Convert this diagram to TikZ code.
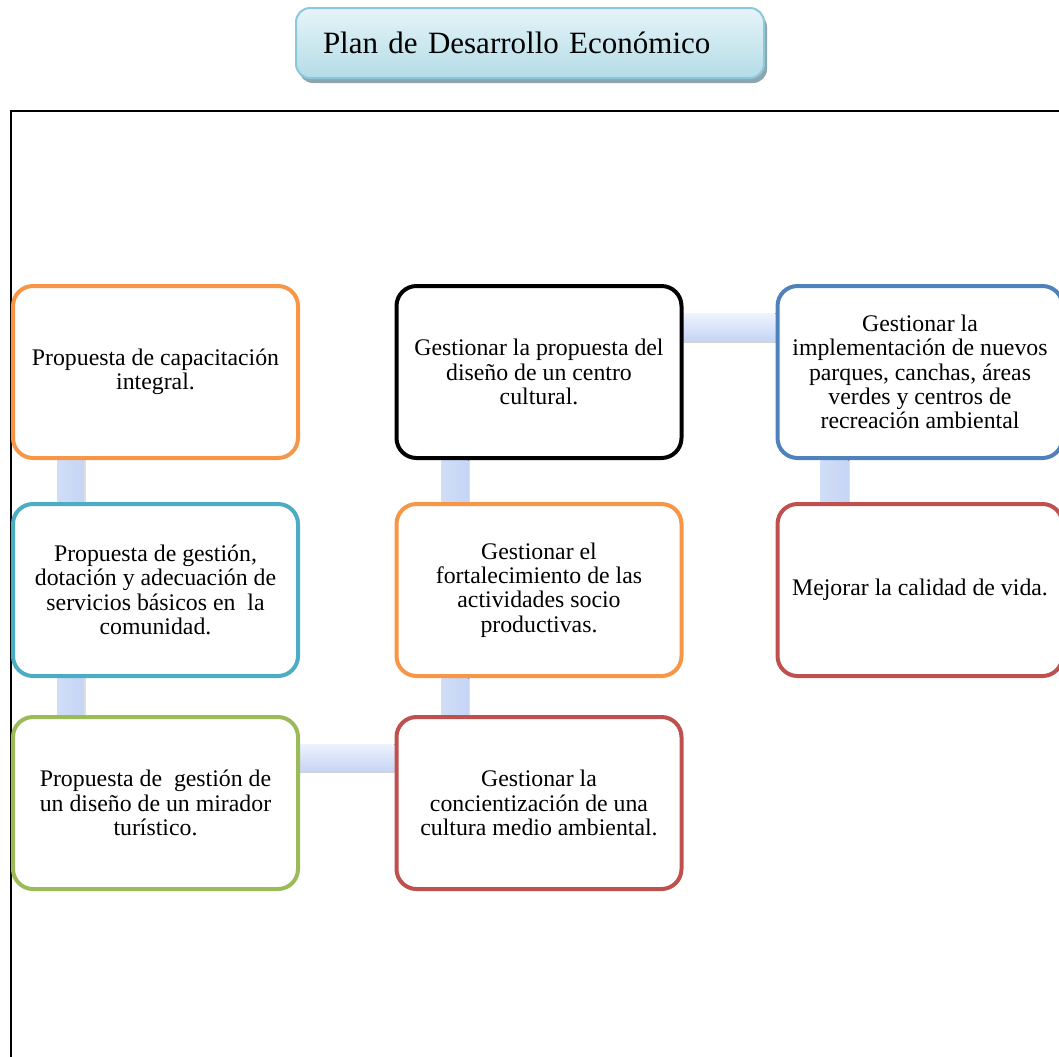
\documentclass[tikz,border=0pt]{standalone}
\usepackage{fontspec}
\setmainfont{Liberation Serif}
\usetikzlibrary{positioning, calc, backgrounds, shadows}
\definecolor{planorange}{RGB}{247, 150, 70}
\definecolor{plancyan}{RGB}{75, 172, 198}
\definecolor{plangreen}{RGB}{155, 187, 89}
\definecolor{planred}{RGB}{192, 80, 77}
\definecolor{planblue}{RGB}{79, 129, 189}
\definecolor{linktop}{RGB}{238, 243, 253}
\definecolor{linkbot}{RGB}{197, 213, 245}
\definecolor{titletop}{RGB}{230, 244, 248}
\definecolor{titlebot}{RGB}{180, 220, 231}
\definecolor{titleline}{RGB}{140, 200, 218}
\definecolor{titleshade}{RGB}{140, 166, 176}

\begin{document}
\begin{tikzpicture}[x=0.5pt, y=-0.5pt,
    caja/.style={draw, line width=2pt, rounded corners=10pt, fill=white,
        minimum width=142.5pt, minimum height=86pt, inner sep=0pt,
        align=center, font=\fontsize{11.9}{12.2}\selectfont},
    enlacev/.style={left color=linkbot!80!white, right color=linkbot,
        drop shadow={shadow xshift=0.8pt, shadow yshift=0pt, opacity=0.25}},
    enlaceh/.style={top color=linktop, bottom color=linkbot,
        drop shadow={shadow xshift=0pt, shadow yshift=-1.2pt, opacity=0.35}}]
    \useasboundingbox (0,0) rectangle (1059,1056);

    % marco
    \draw[line width=1pt] (11,1070) -- (11,111) -- (1070,111);

    % titulo
    \node[draw=titleline, line width=1pt, rounded corners=7pt,
        top color=titletop, bottom color=titlebot,
        drop shadow={shadow xshift=1.5pt, shadow yshift=-2.5pt, fill=titleshade, opacity=1},
        minimum width=234pt, minimum height=35pt, inner xsep=13.5pt,
        text width=207pt, align=left, font=\fontsize{15.5}{18}\selectfont]
        (titulo) at (530,43) {Plan de Desarrollo Económico};

    % columna izquierda
    \node[caja, draw=planorange] (pcap) at (155.5,372) {Propuesta de capacitación\\integral.};
    \node[caja, draw=plancyan] (pserv) at (155.5,590) {Propuesta de gestión,\\dotación y adecuación de\\servicios básicos en~ la\\comunidad.};
    \node[caja, draw=plangreen] (pmir) at (155.5,803) {Propuesta de~ gestión de\\un diseño de un mirador\\turístico.};

    % columna central
    \node[caja, draw=black] (gcult) at (539,372) {Gestionar la propuesta del\\diseño de un centro\\cultural.};
    \node[caja, draw=planorange] (gprod) at (539,590) {Gestionar el\\fortalecimiento de las\\actividades socio\\productivas.};
    \node[caja, draw=planred] (gamb) at (539,803) {Gestionar la\\concientización de una\\cultura medio ambiental.};

    % columna derecha
    \node[caja, draw=planblue] (gpar) at (920,372) {Gestionar la\\implementación de nuevos\\parques, canchas, áreas\\verdes y centros de\\recreación ambiental};
    \node[caja, draw=planred] (mvida) at (920,590) {Mejorar la calidad de vida.};

    % enlaces
    \begin{scope}[on background layer]
        \fill[enlacev] ($(pcap.south west)+(46,0)$) rectangle ($(pserv.north west)+(73,0)$);
        \fill[enlacev] ($(pserv.south west)+(46,0)$) rectangle ($(pmir.north west)+(73,0)$);
        \fill[enlaceh] ($(pmir.north east)+(0,29)$) rectangle ($(gamb.north west)+(0,56)$);
        \fill[enlacev] ($(gamb.north west)+(47,0)$) rectangle ($(gprod.south west)+(74,0)$);
        \fill[enlacev] ($(gprod.north west)+(47,0)$) rectangle ($(gcult.south west)+(74,0)$);
        \fill[enlaceh] ($(gcult.north east)+(0,29)$) rectangle ($(gpar.north west)+(0,57)$);
        \fill[enlacev] ($(gpar.south west)+(45,0)$) rectangle ($(mvida.north west)+(73,0)$);
    \end{scope}
\end{tikzpicture}
\end{document}
